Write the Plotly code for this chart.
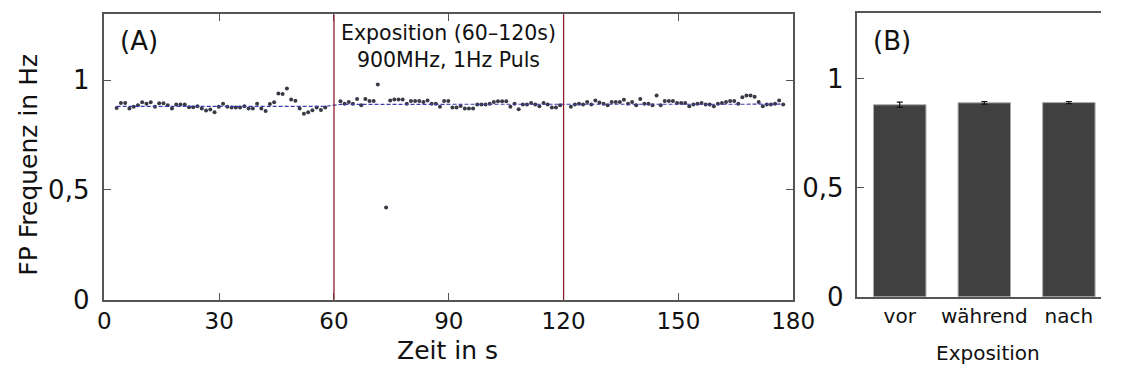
import numpy as np
import plotly.graph_objects as go

# ---------------- data ----------------
# Panel A: FP frequency (Hz) over time, three recording phases
seg1_t = (3.2, 57.7)      # before exposure
seg2_t = (61.7, 119.1)    # during exposure
seg3_t = (121.9, 177.4)   # after exposure

seg1_vals = [0.874, 0.896, 0.896, 0.871, 0.879, 0.886, 0.900, 0.893, 0.900, 0.879,
             0.895, 0.895, 0.886, 0.871, 0.890, 0.890, 0.890, 0.877, 0.877, 0.882,
             0.871, 0.862, 0.867, 0.854, 0.879, 0.893, 0.879, 0.876, 0.876, 0.876,
             0.882, 0.871, 0.871, 0.893, 0.871, 0.860, 0.892, 0.900, 0.940, 0.937,
             0.962, 0.912, 0.906, 0.871, 0.847, 0.854, 0.863, 0.876, 0.864, 0.876]
seg2_vals = [0.904, 0.893, 0.901, 0.893, 0.915, 0.886, 0.915, 0.905, 0.905, 0.981,
             None, 0.42, 0.908, 0.912, 0.912, 0.912, 0.893, 0.905, 0.905, 0.905,
             0.901, 0.908, 0.893, 0.893, 0.879, 0.905, 0.905, 0.876, 0.876, 0.883,
             0.871, 0.871, 0.871, 0.889, 0.889, 0.889, 0.893, 0.901, 0.904, 0.904,
             0.904, 0.879, 0.893, 0.868, 0.889, 0.889, 0.896, 0.889, 0.882, 0.896,
             0.889, 0.876, 0.876, 0.886]
seg3_vals = [0.879, 0.890, 0.893, 0.890, 0.901, 0.890, 0.908, 0.899, 0.893, 0.886,
             0.901, 0.901, 0.901, 0.911, 0.893, 0.901, 0.886, 0.915, 0.893, 0.893,
             0.886, 0.930, 0.886, 0.905, 0.905, 0.905, 0.896, 0.896, 0.896, 0.882,
             0.890, 0.893, 0.896, 0.890, 0.890, 0.882, 0.893, 0.896, 0.901, 0.905,
             0.905, 0.893, 0.922, 0.930, 0.930, 0.925, 0.901, 0.882, 0.890, 0.890,
             0.893, 0.908, 0.890]

exposure_window = [60, 120]

# Panel B: mean per phase
phases = ["vor", "während", "nach"]
phase_means = [0.881, 0.890, 0.891]
phase_err = [0.012, 0.006, 0.005]

x_ticks_a = [0, 30, 60, 90, 120, 150, 180]
y_ticks = [0, 0.5, 1]
y_ticktext = ["0", "0,5", "1"]

# ---------------- build ----------------
W, H = 1123, 380
def px(x):
    return x / W
def py(y):
    return 1 - y / H

segments = [(seg1_t, seg1_vals), (seg2_t, seg2_vals), (seg3_t, seg3_vals)]
t_all, v_all = [], []
for (t0, t1), vals in segments:
    t_all.extend(np.linspace(t0, t1, len(vals)).tolist())
    v_all.extend(vals)

# mean line (dashed): segment means spanning each segment
mx, my = [], []
for ((t0, t1), _), m in zip(segments, phase_means):
    mx += [t0, t1]
    my += [m, m]

FONT = "DejaVu Sans"
AXC = "#555555"
TXT = "#111111"
fig = go.Figure()

fig.add_trace(go.Scatter(x=t_all, y=v_all, mode="markers",
                         marker=dict(color="#3a3a46", size=4),
                         xaxis="x", yaxis="y", showlegend=False))
fig.add_trace(go.Scatter(x=mx, y=my, mode="lines",
                         line=dict(color="#3c3cb0", width=1.1, dash="4px,2px"),
                         xaxis="x", yaxis="y", showlegend=False, hoverinfo="skip"))

fig.add_trace(go.Bar(x=phases, y=phase_means,
                     error_y=dict(type="data", array=phase_err, color="#111111",
                                  thickness=1.2, width=3),
                     marker=dict(color="#404040", line=dict(color="#a8a8a8", width=1)),
                     width=0.62, xaxis="x2", yaxis="y2", showlegend=False))

shapes = []
for xv in exposure_window:
    shapes.append(dict(type="line", xref="x", yref="y domain", x0=xv, x1=xv, y0=0, y1=1,
                       line=dict(color="#8e1e2c", width=1.3), layer="above"))

ax_line = dict(showline=True, linecolor=AXC, linewidth=1.5, ticks="inside",
               ticklen=7, tickcolor=AXC, tickwidth=1.3, showgrid=False, zeroline=False)
x_tick_font = dict(family=FONT, size=23, color=TXT)
y_tick_font = dict(family=FONT, size=26, color=TXT)

fig.update_layout(
    width=W, height=H,
    margin=dict(l=0, r=0, t=0, b=0),
    paper_bgcolor="white", plot_bgcolor="white",
    separators=",.",
    xaxis=dict(domain=[px(100), px(807)], range=[0, 180], tickvals=x_ticks_a,
               mirror="ticks", anchor="y", tickfont=x_tick_font, **ax_line),
    yaxis=dict(domain=[py(312), py(15)], range=[0, 1.3], tickvals=y_ticks,
               ticktext=y_ticktext, mirror="ticks", anchor="x", tickfont=y_tick_font,
               ticklabelstandoff=8, **ax_line),
    xaxis2=dict(domain=[px(873), 1.0], range=[-0.5, 2.38], anchor="y2",
                showline=True, linecolor=AXC, linewidth=1.5, mirror=True, ticks="",
                showgrid=False, zeroline=False,
                tickfont=dict(family=FONT, size=20, color=TXT)),
    yaxis2=dict(domain=[py(309), py(14)], range=[0, 1.3], tickvals=y_ticks,
                ticktext=y_ticktext, anchor="x2", tickfont=y_tick_font,
                ticklabelstandoff=7, **ax_line),
    shapes=shapes,
    annotations=[
        dict(text="FP Frequenz in Hz", x=px(22), y=py(171), xref="paper", yref="paper",
             textangle=-90, showarrow=False, font=dict(family=FONT, size=25, color=TXT),
             xanchor="center", yanchor="middle"),
        dict(text="Zeit in s", x=px(452), y=py(365), xref="paper", yref="paper",
             showarrow=False, font=dict(family=FONT, size=25, color=TXT),
             xanchor="center", yanchor="middle"),
        dict(text="Exposition", x=px(1007), y=py(368), xref="paper", yref="paper",
             showarrow=False, font=dict(family=FONT, size=20, color=TXT),
             xanchor="center", yanchor="middle"),
        dict(text="(A)", x=px(114), y=py(43), xref="paper", yref="paper",
             showarrow=False, font=dict(family=FONT, size=26, color=TXT),
             xanchor="left", yanchor="middle"),
        dict(text="(B)", x=px(887), y=py(43), xref="paper", yref="paper",
             showarrow=False, font=dict(family=FONT, size=26, color=TXT),
             xanchor="left", yanchor="middle"),
        dict(text="Exposition (60–120s)<br>900MHz, 1Hz Puls", x=90, xref="x",
             y=py(20), yref="paper", showarrow=False, align="center",
             font=dict(family=FONT, size=20.5, color=TXT),
             xanchor="center", yanchor="top"),
    ],
)

fig.write_html("out.html")
